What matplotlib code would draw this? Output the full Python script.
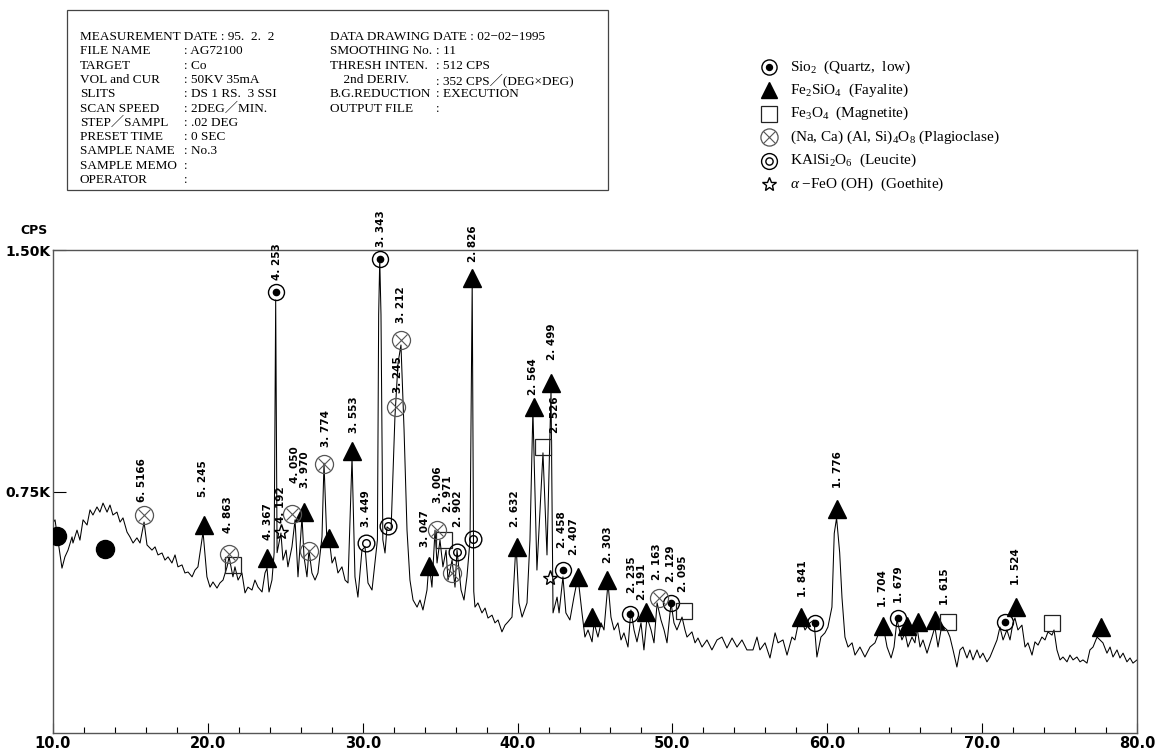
import matplotlib.pyplot as plt
from matplotlib.patches import Rectangle

plt.rcParams['mathtext.fontset'] = 'custom'
plt.rcParams['mathtext.rm'] = 'Liberation Serif'
plt.rcParams['mathtext.it'] = 'Liberation Serif:italic'

# ---- diffraction pattern (2theta deg, CPS)
two_theta = [10.02, 10.13, 10.32, 10.58, 10.77, 10.97, 11.23, 11.29, 11.55, 11.74, 11.94, 12.20, 12.39, 12.58,
             12.84, 13.03, 13.23, 13.49, 13.68, 13.87, 14.13, 14.33, 14.52, 14.78, 14.97, 15.17, 15.42, 15.62,
             15.88, 16.07, 16.39, 16.59, 16.78, 17.04, 17.23, 17.43, 17.68, 17.88, 18.07, 18.33, 18.52, 18.72,
             18.98, 19.17, 19.36, 19.69, 19.94, 20.14, 20.33, 20.59, 20.78, 20.98, 21.24, 21.37, 21.62, 21.75,
             21.95, 22.20, 22.40, 22.59, 22.85, 23.04, 23.24, 23.50, 23.69, 23.82, 23.95, 24.14, 24.28, 24.38,
             24.47, 24.72, 24.85, 25.05, 25.17, 25.43, 25.63, 25.82, 26.08, 26.21, 26.40, 26.53, 26.72, 26.92,
             27.11, 27.37, 27.50, 27.69, 27.82, 28.02, 28.21, 28.40, 28.66, 28.86, 29.05, 29.31, 29.50, 29.69,
             29.95, 30.15, 30.34, 30.60, 30.79, 30.95, 31.03, 31.10, 31.18, 31.30, 31.44, 31.57, 31.83, 32.08,
             32.28, 32.47, 32.67, 32.86, 33.05, 33.25, 33.51, 33.70, 33.89, 34.15, 34.28, 34.47, 34.67, 34.80,
             34.99, 35.18, 35.38, 35.51, 35.77, 35.96, 36.09, 36.35, 36.54, 36.73, 36.93, 37.07, 37.17, 37.25,
             37.44, 37.70, 37.90, 38.09, 38.35, 38.54, 38.74, 38.99, 39.19, 39.38, 39.64, 39.90, 40.09, 40.29,
             40.61, 40.80, 40.99, 41.25, 41.64, 41.90, 42.16, 42.29, 42.55, 42.68, 42.93, 43.12, 43.38, 43.64,
             43.90, 44.16, 44.35, 44.55, 44.81, 44.94, 45.19, 45.39, 45.58, 45.84, 46.03, 46.23, 46.48, 46.68,
             46.87, 47.13, 47.32, 47.52, 47.71, 47.97, 48.16, 48.36, 48.62, 48.81, 49.01, 49.26, 49.46, 49.65,
             49.91, 50.10, 50.29, 50.62, 50.81, 50.94, 51.26, 51.46, 51.65, 51.91, 52.23, 52.55, 52.88, 53.20,
             53.52, 53.85, 54.17, 54.49, 54.81, 55.20, 55.46, 55.65, 55.98, 56.30, 56.63, 56.82, 57.14, 57.40,
             57.72, 57.91, 58.24, 58.56, 58.88, 59.14, 59.33, 59.59, 59.85, 60.04, 60.30, 60.45, 60.60, 60.80,
             60.95, 61.14, 61.34, 61.60, 61.79, 62.11, 62.43, 62.76, 63.08, 63.40, 63.60, 63.86, 64.12, 64.31,
             64.50, 64.82, 65.02, 65.21, 65.47, 65.66, 65.79, 65.99, 66.18, 66.44, 66.76, 66.95, 67.15, 67.40,
             67.73, 67.92, 68.12, 68.37, 68.57, 68.76, 69.02, 69.21, 69.41, 69.67, 69.86, 70.05, 70.31, 70.51,
             70.70, 70.96, 71.15, 71.35, 71.60, 71.80, 71.99, 72.12, 72.31, 72.57, 72.77, 72.96, 73.22, 73.41,
             73.61, 73.86, 74.06, 74.25, 74.51, 74.64, 74.83, 75.03, 75.22, 75.48, 75.67, 75.87, 76.12, 76.32,
             76.51, 76.77, 76.96, 77.16, 77.42, 77.61, 77.80, 78.06, 78.26, 78.45, 78.71, 78.90, 79.10, 79.35,
             79.55, 79.74, 80.00]
cps = [655, 662, 599, 512, 547, 568, 609, 590, 630, 599, 662, 646, 693, 677,
       702, 686, 714, 686, 708, 677, 686, 655, 668, 624, 609, 590, 606, 590,
       655, 584, 568, 578, 553, 559, 537, 547, 528, 553, 516, 522, 497, 500,
       485, 506, 516, 624, 485, 453, 469, 450, 466, 475, 516, 547, 485, 516,
       475, 497, 435, 453, 444, 475, 453, 438, 497, 512, 438, 475, 560, 1345,
       560, 621, 537, 568, 516, 578, 662, 485, 671, 547, 485, 568, 497, 475,
       497, 609, 838, 590, 609, 528, 547, 497, 516, 475, 466, 857, 485, 422,
       568, 578, 466, 444, 528, 600, 1300, 1470, 1300, 600, 559, 640, 630, 981,
       1149, 1205, 941, 630, 475, 413, 391, 413, 382, 444, 528, 453, 630, 528,
       599, 516, 568, 475, 537, 453, 568, 444, 413, 485, 599, 1400, 440, 391,
       404, 373, 388, 357, 366, 342, 351, 314, 335, 345, 360, 590, 404, 360,
       404, 599, 1003, 506, 870, 553, 1065, 373, 422, 373, 485, 373, 351, 422,
       485, 373, 298, 320, 283, 342, 298, 342, 320, 466, 360, 320, 342, 289,
       311, 267, 382, 320, 283, 342, 258, 360, 320, 280, 404, 351, 320, 280,
       404, 342, 320, 360, 320, 298, 314, 280, 295, 267, 289, 258, 289, 298,
       264, 295, 267, 289, 258, 258, 298, 258, 280, 233, 311, 280, 289, 242,
       298, 289, 366, 320, 342, 351, 236, 298, 311, 329, 391, 620, 668, 560,
       420, 298, 267, 280, 242, 267, 236, 267, 280, 320, 335, 267, 233, 267,
       351, 289, 311, 267, 298, 280, 329, 267, 289, 248, 298, 329, 267, 335,
       320, 298, 258, 205, 258, 267, 233, 258, 227, 258, 233, 248, 221, 236,
       258, 289, 329, 289, 320, 289, 342, 357, 320, 335, 267, 280, 242, 283,
       273, 298, 289, 314, 304, 320, 258, 227, 236, 221, 242, 227, 236, 221,
       227, 217, 258, 267, 298, 289, 280, 248, 267, 236, 258, 233, 248, 221,
       233, 217, 227]

# ---- phase markers
quartz_x = [24.40, 31.12, 42.93, 47.26, 49.91, 59.21, 64.56, 71.47]
quartz_y = [1370, 1472, 506, 370, 404, 342, 357, 345]
dot_x = [10.26, 13.36]
dot_y = [612, 571]
fayalite_x = [37.06, 19.75, 23.82, 26.21, 27.82, 29.31, 34.28, 39.96, 41.06, 42.16, 43.90,
              44.81, 45.77, 48.29, 58.30, 60.63, 63.60, 65.15, 65.86, 66.95, 72.19, 77.67]
fayalite_y = [1413, 646, 543, 686, 606, 876, 519, 578, 1012, 1087, 484,
              360, 475, 376, 360, 696, 332, 332, 345, 351, 391, 329]
magnetite_x = [21.62, 35.25, 41.64, 50.75, 67.79, 74.51]
magnetite_y = [522, 599, 888, 379, 345, 342]
plag_x = [15.88, 21.37, 25.43, 26.53, 27.50, 32.15, 32.47, 34.80, 35.77, 49.13]
plag_y = [677, 556, 680, 565, 835, 1012, 1221, 630, 497, 419]
leucite_x = [30.21, 31.63, 36.09, 37.12]
leucite_y = [590, 643, 562, 602]
goethite_x = [24.72, 42.09]
goethite_y = [624, 481]

# ---- d-spacing labels
d_labels = ['6.5166', '5.245', '4.863', '4.367', '4.253', '4.192', '4.050', '3.970', '3.774', '3.553',
            '3.449', '3.343', '3.245', '3.212', '3.047', '3.006', '2.971', '2.902', '2.826', '2.632',
            '2.564', '2.526', '2.499', '2.458', '2.407', '2.303', '2.235', '2.191', '2.163', '2.129',
            '2.095', '1.841', '1.776', '1.704', '1.679', '1.615', '1.524']
label_x = [15.75, 19.69, 21.30, 23.88, 24.45, 24.72, 25.63, 26.27, 27.63, 29.44,
           30.21, 31.15, 32.28, 32.47, 34.02, 34.86, 35.51, 36.15, 37.12, 39.83,
           41.00, 42.42, 42.22, 42.87, 43.64, 45.84, 47.39, 48.03, 49.00, 49.91,
           50.68, 58.43, 60.69, 63.60, 64.63, 67.60, 72.19]
label_y = [717, 733, 621, 599, 1407, 652, 776, 761, 888, 932,
           640, 1509, 1056, 1273, 578, 714, 686, 640, 1463, 640,
           1050, 932, 1158, 575, 553, 528, 435, 413, 475, 469,
           438, 422, 761, 391, 404, 398, 460]

x_major = [10, 20, 30, 40, 50, 60, 70, 80]
x_minor = list(range(10, 81, 2))
x_tick_labels = ['10.0', '20.0', '30.0', '40.0', '50.0', '60.0', '70.0', '80.0']

legend_kinds = ['quartz', 'fayalite', 'magnetite', 'plag', 'leucite', 'goethite']
legend_labels = ['Sio$_2$  (Quartz,  low)', 'Fe$_2$SiO$_4$  (Fayalite)', 'Fe$_3$O$_4$  (Magnetite)',
                 '(Na, Ca) (Al, Si)$_4$O$_8$ (Plagioclase)', 'KAlSi$_2$O$_6$  (Leucite)',
                 '$\\alpha$ \u2212FeO (OH)  (Goethite)']

info_left = [('MEASUREMENT DATE', '95.  2.  2'), ('FILE NAME', 'AG72100'), ('TARGET', 'Co'),
             ('VOL and CUR', '50KV 35mA'), ('SLITS', 'DS 1 RS.  3 SSI'), ('SCAN SPEED', '2DEG\uff0fMIN.'),
             ('STEP\uff0fSAMPL', '.02 DEG'), ('PRESET TIME', '0 SEC'), ('SAMPLE NAME', 'No.3'),
             ('SAMPLE MEMO', ''), ('OPERATOR', '')]
info_right = [('DATA DRAWING DATE', '02\u221202\u22121995'), ('SMOOTHING No.', '11'),
              ('THRESH INTEN.', '512 CPS'), ('    2nd DERIV.', '352 CPS\uff0f(DEG\u00d7DEG)'),
              ('B.G.REDUCTION', 'EXECUTION'), ('OUTPUT FILE', '')]

W, H = 1159, 751
narrow = ['DejaVu Sans Condensed', 'DejaVu Sans']
serif = ['Liberation Serif', 'Noto Sans CJK JP', 'DejaVu Serif']


def mark(a, xs, ys, kind, scale=1.0):
    s = scale
    if kind == 'quartz':
        a.plot(xs, ys, 'o', ms=11.5 * s, mfc='none', mec='k', mew=1.0, zorder=4)
        a.plot(xs, ys, 'o', ms=4.5 * s, color='k', zorder=4)
    elif kind == 'fayalite':
        a.plot(xs, ys, '^', ms=12.5 * s, color='k', zorder=4)
    elif kind == 'magnetite':
        a.plot(xs, ys, 's', ms=12 * s, mfc='none', mec='#222', mew=0.9, zorder=4)
    elif kind == 'plag':
        a.plot(xs, ys, 'o', ms=13 * s, mfc='none', mec='#555', mew=0.9, zorder=4)
        a.plot(xs, ys, 'x', ms=9 * s, mec='#555', mew=0.8, zorder=4)
    elif kind == 'leucite':
        a.plot(xs, ys, 'o', ms=12 * s, mfc='none', mec='k', mew=1.0, zorder=4)
        a.plot(xs, ys, 'o', ms=5.5 * s, mfc='none', mec='k', mew=1.0, zorder=4)
    elif kind == 'goethite':
        a.plot(xs, ys, '*', ms=11 * s, mfc='none', mec='k', mew=1.0, zorder=4)
    elif kind == 'dot':
        a.plot(xs, ys, 'o', ms=13 * s, color='k', zorder=4)


fig = plt.figure(figsize=(W / 100, H / 100), dpi=100)
ax = fig.add_axes([53 / W, 18 / H, 1084 / W, 483 / H])
ax.set_facecolor('none')
ax.plot(two_theta, cps, color='k', lw=0.75, zorder=2)
ax.set_xlim(10, 80)
ax.set_ylim(0, 1500)

mark(ax, quartz_x, quartz_y, 'quartz')
mark(ax, dot_x, dot_y, 'dot')
mark(ax, fayalite_x, fayalite_y, 'fayalite')
mark(ax, magnetite_x, magnetite_y, 'magnetite')
mark(ax, plag_x, plag_y, 'plag')
mark(ax, leucite_x, leucite_y, 'leucite')
mark(ax, goethite_x, goethite_y, 'goethite')
for lab, lx, ly in zip(d_labels, label_x, label_y):
    ax.text(lx, ly, lab.replace('.', '. '), rotation=90, ha='center', va='bottom',
            fontsize=7.5, fontweight='bold', family=narrow, clip_on=False, zorder=5)

ax.set_xticks(x_major)
ax.set_xticklabels(x_tick_labels, fontsize=10.5, fontweight='bold', family=narrow)
ax.set_xticks(x_minor, minor=True)
ax.tick_params(axis='x', which='major', direction='in', length=7, width=0.8, pad=2)
ax.tick_params(axis='x', which='minor', direction='in', length=4, width=0.8)
ax.set_yticks([750, 1500])
ax.set_yticklabels(['0.75K', '1.50K'], fontsize=10, fontweight='bold')
ax.tick_params(axis='y', direction='in', length=9, width=0.8, pad=2)
for sp in ax.spines.values():
    sp.set_color('#555')
    sp.set_linewidth(1.0)

# overlay in pixel units for the header block
ov = fig.add_axes([0, 0, 1, 1])
ov.set_xlim(0, W)
ov.set_ylim(H, 0)
ov.set_facecolor('none')
ov.axis('off')
ov.text(34, 231, 'CPS', fontsize=9, fontweight='bold', ha='center', va='center')

ov.add_patch(Rectangle((67, 10), 541, 180, fill=False, ec='#444', lw=0.9))
for i, (k, v) in enumerate(info_left):
    y = 37 + 14.3 * i
    if i == 0:
        ov.text(80, y, k + ' : ' + v, fontsize=9.5, family=serif, va='center')
    else:
        ov.text(80, y, k, fontsize=9.5, family=serif, va='center')
        ov.text(184, y, ': ' + v, fontsize=9.5, family=serif, va='center')
for i, (k, v) in enumerate(info_right):
    y = 37 + 14.3 * i
    if i == 0:
        ov.text(330, y, k + ' : ' + v, fontsize=9.5, family=serif, va='center')
    else:
        ov.text(330, y, k, fontsize=9.5, family=serif, va='center')
        ov.text(436, y, ': ' + v, fontsize=9.5, family=serif, va='center')

for i, (kind, lab) in enumerate(zip(legend_kinds, legend_labels)):
    y = 67 + 23.4 * i
    mark(ov, [769], [y], kind, scale=0.95)
    ov.text(790, y, lab, fontsize=11, family=serif, va='center')

fig.savefig('out.png', dpi=100)
